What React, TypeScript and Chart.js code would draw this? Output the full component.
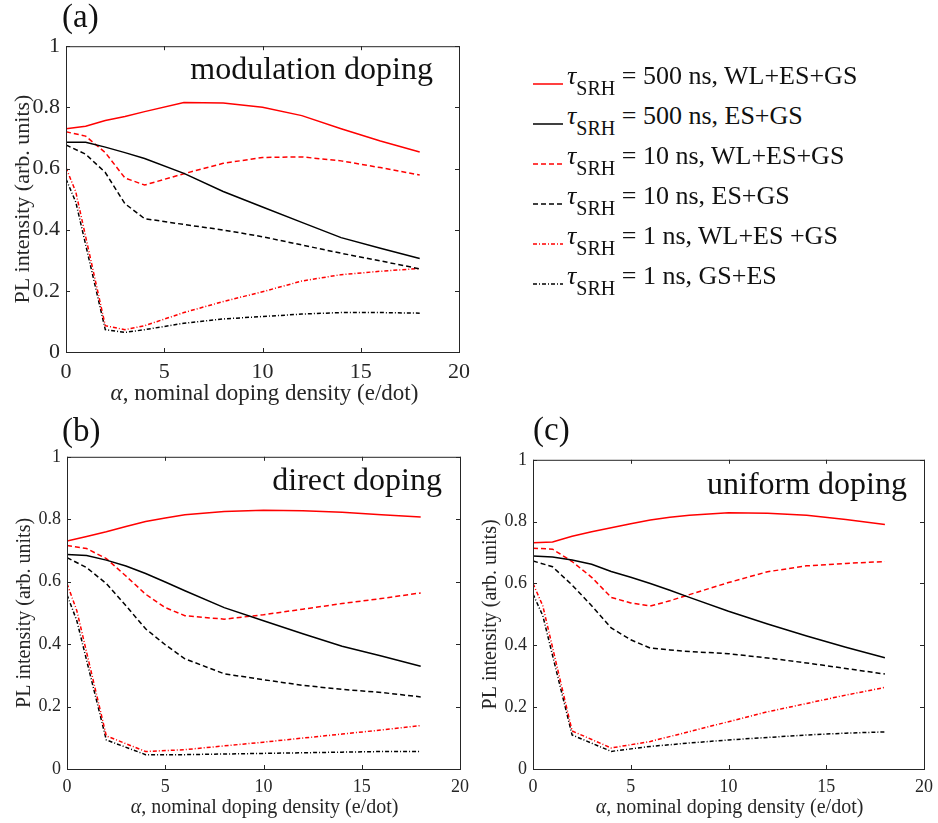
import React, { useEffect, useRef } from "react";
import { Chart, registerables } from "chart.js";

Chart.register(...registerables);

const alphaA = [0, 1, 2, 3, 4, 6, 8, 10, 12, 14, 16, 18];
const alphaLow = [0, 0.5, 2, 3, 4, 6, 8, 10, 12, 14, 16, 18];
const alphaB = [0, 1, 2, 3, 4, 5, 6, 8, 10, 12, 14, 16, 18];
const alphaLowB = [0, 0.5, 2, 4, 6, 8, 10, 12, 14, 16, 18];
const alphaC = [0, 1, 2, 3, 4, 5, 6, 7, 8, 10, 12, 14, 16, 18];

// (a) modulation doping
const modRed500 = [0.73, 0.738, 0.757, 0.77, 0.786, 0.816, 0.814, 0.8, 0.773, 0.73, 0.69, 0.654];
const modBlack500 = [0.686, 0.686, 0.67, 0.652, 0.633, 0.584, 0.525, 0.474, 0.424, 0.374, 0.339, 0.306];
const modRed10 = [0.72, 0.706, 0.652, 0.569, 0.546, 0.583, 0.617, 0.636, 0.638, 0.625, 0.603, 0.579];
const modBlack10 = [0.677, 0.647, 0.587, 0.485, 0.436, 0.417, 0.399, 0.377, 0.35, 0.323, 0.298, 0.272];
const modRed1 = [0.603, 0.523, 0.086, 0.073, 0.086, 0.129, 0.165, 0.197, 0.232, 0.253, 0.264, 0.273];
const modBlack1 = [0.566, 0.49, 0.073, 0.064, 0.073, 0.094, 0.108, 0.116, 0.124, 0.129, 0.129, 0.127];

// (b) direct doping
const dirRed500 = [0.73, 0.745, 0.76, 0.777, 0.793, 0.804, 0.814, 0.825, 0.829, 0.827, 0.822, 0.814, 0.807];
const dirBlack500 = [0.687, 0.684, 0.669, 0.65, 0.626, 0.599, 0.571, 0.517, 0.475, 0.433, 0.393, 0.362, 0.329];
const dirRed10 = [0.716, 0.706, 0.674, 0.618, 0.56, 0.517, 0.491, 0.48, 0.494, 0.512, 0.53, 0.546, 0.564];
const dirBlack10 = [0.677, 0.645, 0.594, 0.523, 0.449, 0.398, 0.353, 0.305, 0.286, 0.268, 0.255, 0.245, 0.231];
const dirRed1 = [0.594, 0.507, 0.106, 0.056, 0.062, 0.074, 0.086, 0.099, 0.112, 0.125, 0.139];
const dirBlack1 = [0.558, 0.475, 0.093, 0.046, 0.046, 0.048, 0.05, 0.052, 0.054, 0.056, 0.056];

// (c) uniform doping
const uniRed500 = [0.732, 0.734, 0.753, 0.767, 0.78, 0.793, 0.805, 0.814, 0.821, 0.829, 0.827, 0.821, 0.807, 0.791];
const uniBlack500 = [0.689, 0.686, 0.676, 0.662, 0.639, 0.62, 0.6, 0.578, 0.555, 0.51, 0.469, 0.43, 0.394, 0.36];
const uniRed10 = [0.714, 0.711, 0.671, 0.62, 0.555, 0.537, 0.527, 0.544, 0.564, 0.603, 0.638, 0.657, 0.665, 0.671];
const uniBlack10 = [0.673, 0.654, 0.595, 0.528, 0.456, 0.418, 0.391, 0.385, 0.38, 0.373, 0.359, 0.343, 0.325, 0.307];
const uniRed1 = [0.6, 0.528, 0.123, 0.068, 0.089, 0.121, 0.153, 0.185, 0.212, 0.239, 0.264];
const uniBlack1 = [0.566, 0.496, 0.11, 0.057, 0.073, 0.084, 0.094, 0.102, 0.11, 0.116, 0.12];

const xTicks = [0, 5, 10, 15, 20];
const yTicks = [0, 0.2, 0.4, 0.6, 0.8, 1];

const legendLabels = [
  "= 500 ns, WL+ES+GS",
  "= 500 ns, ES+GS",
  "= 10 ns, WL+ES+GS",
  "= 10 ns, ES+GS",
  "= 1 ns, WL+ES +GS",
  "= 1 ns, GS+ES",
];

const RED = "#ff0000";
const BLACK = "#000000";
const SOLID: number[] = [];
const DASH = [5, 3];
const DASHDOT = [4, 2, 1, 2];
const styles = [
  { color: RED, dash: SOLID },
  { color: BLACK, dash: SOLID },
  { color: RED, dash: DASH },
  { color: BLACK, dash: DASH },
  { color: RED, dash: DASHDOT },
  { color: BLACK, dash: DASHDOT },
];

const SERIF = "'Liberation Serif', 'DejaVu Serif', serif";
const AXIS = "#262626";

const toPts = (xs: number[], ys: number[]) => xs.map((x, i) => ({ x, y: ys[i] }));

const boxPlugin = {
  id: "boxTicks",
  afterDraw(chart: any) {
    const { ctx, chartArea: a, scales } = chart;
    ctx.save();
    ctx.strokeStyle = AXIS;
    ctx.lineWidth = 1;
    ctx.setLineDash([]);
    ctx.strokeRect(a.left + 0.5, a.top + 0.5, a.right - a.left, a.bottom - a.top);
    const L = 4;
    ctx.beginPath();
    xTicks.forEach((v) => {
      const px = Math.round(scales.x.getPixelForValue(v)) + 0.5;
      ctx.moveTo(px, a.bottom);
      ctx.lineTo(px, a.bottom - L);
      ctx.moveTo(px, a.top);
      ctx.lineTo(px, a.top + L);
    });
    yTicks.forEach((v) => {
      const py = Math.round(scales.y.getPixelForValue(v)) + 0.5;
      ctx.moveTo(a.left, py);
      ctx.lineTo(a.left + L, py);
      ctx.moveTo(a.right, py);
      ctx.lineTo(a.right - L, py);
    });
    ctx.stroke();
    ctx.restore();
  },
};

type Area = { l: number; t: number; r: number; b: number };
type Fonts = { tick: number; yTitle: number; xTitle: number; xTitleOffset: number; yTitlePad: number };

function Panel(props: {
  area: Area;
  fonts: Fonts;
  label: string;
  labelPos: { x: number; y: number };
  note: string;
  noteRight: number;
  noteY: number;
  series: { xs: number[]; ys: number[] }[];
}) {
  const ref = useRef<HTMLCanvasElement>(null);
  const { area, fonts } = props;
  const padLeft = fonts.yTitlePad;
  const yW = 66 - padLeft;
  const padTop = 15;
  const padRight = 14;
  const xH = 54;
  const left = area.l - yW - padLeft;
  const top = area.t - padTop;
  const width = area.r - left + padRight;
  const height = area.b - top + xH;

  useEffect(() => {
    if (!ref.current) return;
    const chart = new Chart(ref.current, {
      type: "line",
      data: {
        datasets: props.series.map((s, i) => ({
          label: legendLabels[i],
          data: toPts(s.xs, s.ys),
          borderColor: styles[i].color,
          borderDash: styles[i].dash,
          borderWidth: 1.5,
          pointRadius: 0,
          tension: 0,
          fill: false,
        })),
      },
      options: {
        animation: false,
        responsive: false,
        maintainAspectRatio: false,
        layout: { padding: { top: padTop, right: padRight, left: padLeft, bottom: 0 } },
        plugins: { legend: { display: false }, tooltip: { enabled: false } },
        scales: {
          x: {
            type: "linear",
            min: 0,
            max: 20,
            afterBuildTicks: (s: any) => {
              s.ticks = xTicks.map((v) => ({ value: v }));
            },
            afterFit: (s: any) => {
              s.height = xH;
            },
            grid: { display: false, drawTicks: false },
            border: { display: false },
            ticks: { color: AXIS, font: { family: SERIF, size: fonts.tick }, padding: 7, maxRotation: 0 },
            title: { display: false },
          },
          y: {
            type: "linear",
            min: 0,
            max: 1,
            afterBuildTicks: (s: any) => {
              s.ticks = yTicks.map((v) => ({ value: v }));
            },
            afterFit: (s: any) => {
              s.width = yW;
            },
            grid: { display: false, drawTicks: false },
            border: { display: false },
            ticks: {
              color: AXIS,
              font: { family: SERIF, size: fonts.tick },
              padding: 6,
              callback: (v: any) => String(Math.round(Number(v) * 10) / 10),
            },
            title: {
              display: true,
              text: "PL intensity (arb. units)",
              color: AXIS,
              font: { family: SERIF, size: fonts.yTitle },
              padding: { top: 0, bottom: 0 },
            },
          },
        },
      },
      plugins: [boxPlugin],
    } as any);
    return () => chart.destroy();
  }, []);

  return (
    <>
      <canvas
        ref={ref}
        width={width}
        height={height}
        style={{ position: "absolute", left, top, width, height }}
      />
      <div
        style={{
          position: "absolute",
          left: area.l - 20,
          top: area.b + fonts.xTitleOffset,
          width: area.r - area.l + 40,
          textAlign: "center",
          fontFamily: SERIF,
          fontSize: fonts.xTitle,
          color: AXIS,
          whiteSpace: "nowrap",
          lineHeight: "24px",
        }}
      >
        <i>α</i>, nominal doping density (e/dot)
      </div>
      <div
        style={{
          position: "absolute",
          left: props.labelPos.x,
          top: props.labelPos.y,
          fontFamily: SERIF,
          fontSize: 33,
          color: "#111",
          lineHeight: "33px",
        }}
      >
        {props.label}
      </div>
      <div
        style={{
          position: "absolute",
          right: 938 - props.noteRight,
          top: props.noteY,
          fontFamily: SERIF,
          fontSize: 32,
          color: "#111",
          lineHeight: "32px",
          whiteSpace: "nowrap",
        }}
      >
        {props.note}
      </div>
    </>
  );
}

function LegendSample(props: { color: string; dash: number[] }) {
  return (
    <svg width={30} height={6} style={{ position: "absolute", left: 0, top: 0 }}>
      <line
        x1={0}
        y1={3}
        x2={30}
        y2={3}
        stroke={props.color}
        strokeWidth={1.5}
        strokeDasharray={props.dash.length ? props.dash.join(",") : undefined}
      />
    </svg>
  );
}

const bigFonts: Fonts = { tick: 22, yTitle: 22, xTitle: 23, xTitleOffset: 29, yTitlePad: 10 };
const smallFonts: Fonts = { tick: 18, yTitle: 20, xTitle: 20, xTitleOffset: 25, yTitlePad: 12 };

export default function App() {
  return (
    <div style={{ position: "absolute", left: 0, top: 0, width: 938, height: 823, background: "#fff", overflow: "hidden" }}>
      <Panel
        area={{ l: 66, t: 42, r: 463, b: 352 }}
        fonts={bigFonts}
        label="(a)"
        labelPos={{ x: 62, y: 0 }}
        note="modulation doping"
        noteRight={433}
        noteY={52}
        series={[
          { xs: alphaA, ys: modRed500 },
          { xs: alphaA, ys: modBlack500 },
          { xs: alphaA, ys: modRed10 },
          { xs: alphaA, ys: modBlack10 },
          { xs: alphaLow, ys: modRed1 },
          { xs: alphaLow, ys: modBlack1 },
        ]}
      />
      <Panel
        area={{ l: 67, t: 455, r: 462, b: 769 }}
        fonts={smallFonts}
        label="(b)"
        labelPos={{ x: 62, y: 414 }}
        note="direct doping"
        noteRight={442}
        noteY={463}
        series={[
          { xs: alphaB, ys: dirRed500 },
          { xs: alphaB, ys: dirBlack500 },
          { xs: alphaB, ys: dirRed10 },
          { xs: alphaB, ys: dirBlack10 },
          { xs: alphaLowB, ys: dirRed1 },
          { xs: alphaLowB, ys: dirBlack1 },
        ]}
      />
      <Panel
        area={{ l: 533, t: 458, r: 926, b: 769 }}
        fonts={smallFonts}
        label="(c)"
        labelPos={{ x: 533, y: 413 }}
        note="uniform doping"
        noteRight={907}
        noteY={467}
        series={[
          { xs: alphaC, ys: uniRed500 },
          { xs: alphaC, ys: uniBlack500 },
          { xs: alphaC, ys: uniRed10 },
          { xs: alphaC, ys: uniBlack10 },
          { xs: alphaLowB, ys: uniRed1 },
          { xs: alphaLowB, ys: uniBlack1 },
        ]}
      />
      {legendLabels.map((lab, i) => (
        <div
          key={i}
          style={{ position: "absolute", left: 533, top: 84 + i * 40 - 3, width: 400, height: 40 }}
        >
          <LegendSample color={styles[i].color} dash={styles[i].dash} />
          <div
            style={{
              position: "absolute",
              left: 34,
              top: -18,
              fontFamily: SERIF,
              fontSize: 26,
              color: "#111",
              whiteSpace: "nowrap",
              lineHeight: "26px",
            }}
          >
            <i>τ</i>
            <sub style={{ fontSize: 20, verticalAlign: "-11px", lineHeight: "20px" }}>SRH</sub> {lab}
          </div>
        </div>
      ))}
    </div>
  );
}
